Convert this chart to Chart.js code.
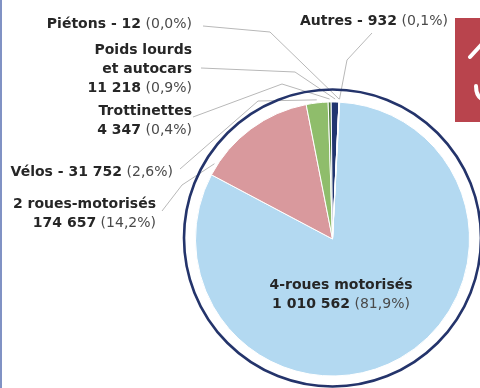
<!DOCTYPE html>
<html lang="fr">
<head>
<meta charset="utf-8">
<script src="https://cdn.jsdelivr.net/npm/chart.js@4"></script>
<style>
html,body{margin:0;padding:0;background:#fff;}
#wrap{position:relative;width:480px;height:388px;overflow:hidden;background:#fff;}
canvas{display:block;}
</style>
</head>
<body>
<div id="wrap"><canvas id="c" width="480" height="388"></canvas></div>
<script>
// Victims by mode of transport
const categories = ['4-roues motorisés', '2 roues-motorisés', 'Vélos', 'Trottinettes', 'Poids lourds et autocars', 'Piétons', 'Autres'];
const victims = [1010562, 174657, 31752, 4347, 11218, 12, 932];
// How each label's title is broken into lines; inline titles share the line with the value
const labelTitles = [['4-roues motorisés'], ['2 roues-motorisés'], ['Vélos'], ['Trottinettes'], ['Poids lourds', 'et autocars'], ['Piétons'], ['Autres']];
const inlineTitle = [false, false, true, false, false, true, true];

const sliceColors = ['#b3d9f1', '#d9999d', '#8fbd6b', '#4d7a3b', '#223670', '#7a7a7a', '#d3e3f2'];

// Label placement: text anchor, alignment and leader-line elbows (canvas px)
const labelLayout = [
  { x: 341, y: 289, align: 'center', lead: null },
  { x: 156, y: 208, align: 'right', lead: [[162, 211], [182, 185]], frac: 0.09 },
  { x: 173, y: 176, align: 'right', lead: [[180, 169], [258, 101]], frac: 0.5 },
  { x: 192, y: 115, align: 'right', lead: [[193, 117], [282, 84]], frac: 0.5 },
  { x: 192, y: 54, align: 'right', lead: [[201, 68], [295, 72]], frac: 0.5 },
  { x: 192, y: 28, align: 'right', lead: [[203, 26], [270, 32]], frac: 0.5 },
  { x: 300, y: 25, align: 'left', lead: [[372, 33], [347, 60]], frac: 0.5 }
];

const total = victims.reduce((a, b) => a + b, 0);
const fmtNum = v => String(v).replace(/\B(?=(\d{3})+(?!\d))/g, ' ');
const fmtPct = v => '(' + (v / total * 100).toFixed(1).replace('.', ',') + '%)';

const BOLD = 'bold 14px "DejaVu Sans", sans-serif';
const REG = '14px "DejaVu Sans", sans-serif';
const LINE_H = 19;

function drawSegments(ctx, segs, x, y, align) {
  let w = 0;
  segs.forEach(s => { ctx.font = s.bold ? BOLD : REG; s.w = ctx.measureText(s.t).width; w += s.w; });
  let cx = align === 'right' ? x - w : align === 'center' ? x - w / 2 : x;
  ctx.textAlign = 'left';
  ctx.textBaseline = 'alphabetic';
  segs.forEach(s => {
    ctx.font = s.bold ? BOLD : REG;
    ctx.fillStyle = s.bold ? '#262626' : '#4a4a4a';
    ctx.fillText(s.t, cx, y);
    cx += s.w;
  });
}

const decorPlugin = {
  id: 'decor',
  beforeDraw(chart) {
    const ctx = chart.ctx;
    ctx.save();
    // page frame on the left
    ctx.fillStyle = '#8092c4';
    ctx.fillRect(0, 0, 2, 388);
    // red tab with its white pictogram
    ctx.fillStyle = '#b9444d';
    ctx.fillRect(455, 18, 25, 104);
    ctx.strokeStyle = '#ffffff';
    ctx.lineWidth = 4;
    ctx.lineCap = 'round';
    ctx.beginPath();
    ctx.moveTo(470, 57);
    ctx.lineTo(482, 44);
    ctx.stroke();
    ctx.beginPath();
    ctx.moveTo(476, 86);
    ctx.quadraticCurveTo(476, 96, 482, 99);
    ctx.stroke();
    ctx.restore();
  },
  afterDraw(chart) {
    const ctx = chart.ctx;
    const arcs = chart.getDatasetMeta(0).data;
    const cx = arcs[0].x, cy = arcs[0].y, r = arcs[0].outerRadius;
    ctx.save();
    // leader lines
    ctx.strokeStyle = '#b8b8b8';
    ctx.lineWidth = 1;
    labelLayout.forEach((L, i) => {
      if (!L.lead) return;
      const a = arcs[i];
      const ang = a.startAngle + (a.endAngle - a.startAngle) * L.frac;
      const ex = cx + Math.cos(ang) * (r + 3);
      const ey = cy + Math.sin(ang) * (r + 3);
      ctx.beginPath();
      ctx.moveTo(L.lead[0][0], L.lead[0][1]);
      for (let k = 1; k < L.lead.length; k++) ctx.lineTo(L.lead[k][0], L.lead[k][1]);
      ctx.lineTo(ex, ey);
      ctx.stroke();
    });
    // outer ring
    ctx.strokeStyle = '#24346b';
    ctx.lineWidth = 2.6;
    ctx.beginPath();
    ctx.arc(cx, cy - 1, r + 11.5, 0, Math.PI * 2);
    ctx.stroke();
    // labels
    labelLayout.forEach((L, i) => {
      const title = labelTitles[i];
      const val = { t: fmtNum(victims[i]), bold: true };
      const pct = { t: ' ' + fmtPct(victims[i]), bold: false };
      let lines;
      if (inlineTitle[i]) {
        lines = [[{ t: title[0] + ' - ', bold: true }, val, pct]];
      } else {
        lines = title.map(t => [{ t, bold: true }]);
        lines.push([val, pct]);
      }
      lines.forEach((segs, k) => drawSegments(ctx, segs, L.x, L.y + k * LINE_H, L.align));
    });
    ctx.restore();
  }
};

new Chart(document.getElementById('c'), {
  type: 'pie',
  data: {
    labels: categories,
    datasets: [{
      data: victims,
      backgroundColor: sliceColors,
      borderColor: '#ffffff',
      borderWidth: 1,
      hoverOffset: 0
    }]
  },
  options: {
    responsive: false,
    animation: false,
    devicePixelRatio: 1,
    events: [],
    rotation: 3,
    radius: 137,
    layout: { padding: { left: 195, right: 10, top: 100, bottom: 10 } },
    plugins: { legend: { display: false }, tooltip: { enabled: false } }
  },
  plugins: [decorPlugin]
});
</script>
</body>
</html>
